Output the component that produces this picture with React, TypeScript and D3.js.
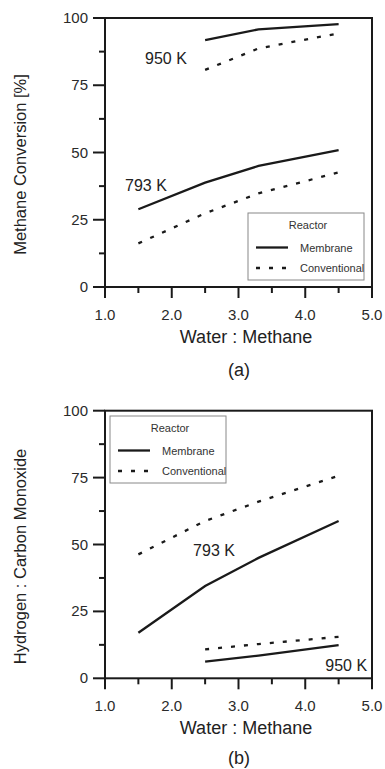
import React from "react";
import * as d3 from "d3";

const xTicks = [1, 2, 3, 4, 5];
const xMinor = [1.5, 2.5, 3.5, 4.5];
const yTicks = [0, 25, 50, 75, 100];
const yMinor = [12.5, 37.5, 62.5, 87.5];

const ratio793 = [1.5, 2.5, 3.3, 4.5];
const ratio950 = [2.5, 3.3, 4.5];

const convMem793 = [28.9, 38.8, 45.0, 50.9];
const convCon793 = [16.2, 27.4, 34.8, 42.6];
const convMem950 = [91.8, 95.8, 97.7];
const convCon950 = [80.7, 88.7, 94.3];

const h2Mem793 = [17.0, 34.5, 45.0, 58.8];
const h2Con793 = [46.3, 58.8, 66.0, 75.7];
const h2Mem950 = [6.2, 8.5, 12.4];
const h2Con950 = [10.8, 12.8, 15.5];

const FONT = "'Liberation Sans', Arial, sans-serif";
const INK = "#1a1a1a";
const DASH = "4,9";

type Series = { xs: number[]; ys: number[]; dashed: boolean };
type Lab = { text: string; x: number; y: number };

function Panel(props: {
  id: string;
  top: number;
  bottom: number;
  yTitle: string;
  caption: string;
  captionY: number;
  series: Series[];
  labels: Lab[];
  legend: { x: number; y: number; w: number; h: number };
}) {
  const { id, top, bottom, yTitle, caption, captionY, series, labels, legend } = props;
  const x = d3.scaleLinear().domain([1, 5]).range([105, 372]);
  const y = d3.scaleLinear().domain([0, 100]).range([bottom, top]);
  const line = d3
    .line<[number, number]>()
    .x((d) => x(d[0]))
    .y((d) => y(d[1]));
  const midY = (top + bottom) / 2 + 12;
  return (
    <g>
      <defs>
        <clipPath id={"lg" + id}>
          <rect x={legend.x} y={legend.y} width={legend.w} height={legend.h} />
        </clipPath>
      </defs>
      {/* frame */}
      <rect x={105} y={top} width={267} height={bottom - top} fill="none" stroke={INK} strokeWidth={2} />
      {/* x ticks */}
      {xTicks.map((t) => (
        <g key={"xt" + t}>
          <line x1={x(t)} x2={x(t)} y1={bottom} y2={bottom + 11} stroke={INK} strokeWidth={2} />
          <text x={x(t)} y={bottom + 33} textAnchor="middle" fontSize={15} fill="#2a2a2a" fontFamily={FONT}>
            {t.toFixed(1)}
          </text>
        </g>
      ))}
      {xMinor.map((t) => (
        <line key={"xm" + t} x1={x(t)} x2={x(t)} y1={bottom} y2={bottom + 6} stroke={INK} strokeWidth={2} />
      ))}
      {/* y ticks */}
      {yTicks.map((t) => (
        <g key={"yt" + t}>
          <line x1={93} x2={105} y1={y(t)} y2={y(t)} stroke={INK} strokeWidth={2} />
          <text x={88} y={y(t) + 5} textAnchor="end" fontSize={15} fill="#2a2a2a" fontFamily={FONT}>
            {t}
          </text>
        </g>
      ))}
      {yMinor.map((t) => (
        <line key={"ym" + t} x1={99} x2={105} y1={y(t)} y2={y(t)} stroke={INK} strokeWidth={2} />
      ))}
      {/* series */}
      {series.map((s, i) => (
        <path
          key={"s" + i}
          d={line(s.xs.map((v, j) => [v, s.ys[j]] as [number, number])) || ""}
          fill="none"
          stroke={INK}
          strokeWidth={2.3}
          strokeDasharray={s.dashed ? DASH : undefined}
        />
      ))}
      {labels.map((l, i) => (
        <text key={"l" + i} x={x(l.x)} y={y(l.y) + 6} fontSize={16} fill="#222" fontFamily={FONT}>
          {l.text}
        </text>
      ))}
      {/* legend */}
      <rect x={legend.x} y={legend.y} width={legend.w} height={legend.h} fill="#fff" stroke="#888" strokeWidth={1} />
      <g clipPath={`url(#lg${id})`}>
        <text x={legend.x + 60} y={legend.y + 16} textAnchor="middle" fontSize={11} fill="#333" fontFamily={FONT}>
          Reactor
        </text>
        <line x1={legend.x + 8} x2={legend.x + 40} y1={legend.y + 34.5} y2={legend.y + 34.5} stroke={INK} strokeWidth={2.3} />
        <text x={legend.x + 52} y={legend.y + 38.5} fontSize={11} fill="#333" fontFamily={FONT}>
          Membrane
        </text>
        <line x1={legend.x + 8} x2={legend.x + 40} y1={legend.y + 55} y2={legend.y + 55} stroke={INK} strokeWidth={2.3} strokeDasharray={DASH} />
        <text x={legend.x + 52} y={legend.y + 59} fontSize={11} fill="#333" fontFamily={FONT}>
          Conventional
        </text>
      </g>
      {/* titles */}
      <text
        transform={`translate(26, ${midY}) rotate(-90)`}
        textAnchor="middle"
        fontSize={16.5}
        fill="#222"
        fontFamily={FONT}
      >
        {yTitle}
      </text>
      <text x={246} y={bottom + 56} textAnchor="middle" fontSize={18} fill="#222" fontFamily={FONT}>
        Water : Methane
      </text>
      <text x={239} y={captionY} textAnchor="middle" fontSize={18} fill="#222" fontFamily={FONT}>
        {caption}
      </text>
    </g>
  );
}

export default function App() {
  return (
    <svg
      width={385}
      height={769}
      style={{ position: "absolute", left: 0, top: 0, background: "#fff" }}
    >
      <rect width={385} height={769} fill="#fff" />
      <Panel
        id="a"
        top={18}
        bottom={287}
        yTitle="Methane Conversion [%]"
        caption="(a)"
        captionY={376}
        series={[
          { xs: ratio950, ys: convMem950, dashed: false },
          { xs: ratio950, ys: convCon950, dashed: true },
          { xs: ratio793, ys: convMem793, dashed: false },
          { xs: ratio793, ys: convCon793, dashed: true },
        ]}
        labels={[
          { text: "950 K", x: 1.6, y: 85.1 },
          { text: "793 K", x: 1.3, y: 37.9 },
        ]}
        legend={{ x: 248, y: 213, w: 116, h: 67 }}
      />
      <Panel
        id="b"
        top={410.7}
        bottom={678.3}
        yTitle="Hydrogen : Carbon Monoxide"
        caption="(b)"
        captionY={764}
        series={[
          { xs: ratio793, ys: h2Mem793, dashed: false },
          { xs: ratio793, ys: h2Con793, dashed: true },
          { xs: ratio950, ys: h2Mem950, dashed: false },
          { xs: ratio950, ys: h2Con950, dashed: true },
        ]}
        labels={[
          { text: "793 K", x: 2.32, y: 47.9 },
          { text: "950 K", x: 4.3, y: 5.0 },
        ]}
        legend={{ x: 110, y: 416, w: 116, h: 67 }}
      />
    </svg>
  );
}
